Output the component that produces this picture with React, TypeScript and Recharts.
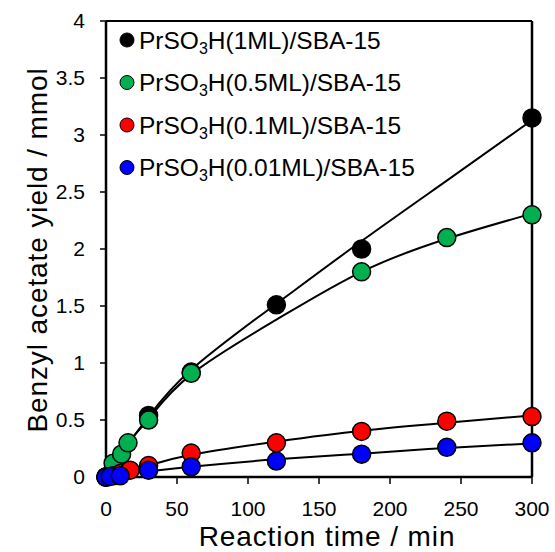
import React from 'react';
import { ComposedChart, XAxis, YAxis, Line, Scatter, ReferenceLine } from 'recharts';

// ---- data ----
const xTicks = [0, 50, 100, 150, 200, 250, 300];
const yTicks = [0, 0.5, 1, 1.5, 2, 2.5, 3, 3.5, 4];

const loadings = ['1ML', '0.5ML', '0.1ML', '0.01ML'];
const colors = ['#000000', '#00B050', '#FF0000', '#0000FF'];

// measured points
const time1ML = [0, 30, 60, 120, 180, 300];
const yield1ML = [0, 0.54, 0.92, 1.51, 2.0, 3.15];

const time05ML = [0, 5, 11, 15.5, 30, 60, 180, 240, 300];
const yield05ML = [0, 0.12, 0.2, 0.3, 0.5, 0.91, 1.8, 2.1, 2.3];

const time01ML = [0, 5, 10, 17, 30, 60, 120, 180, 240, 300];
const yield01ML = [0, 0.01, 0.03, 0.06, 0.1, 0.21, 0.3, 0.4, 0.49, 0.53];

const time001ML = [0, 3, 10, 30, 60, 120, 180, 240, 300];
const yield001ML = [0, 0.005, 0.01, 0.06, 0.09, 0.14, 0.2, 0.26, 0.3];

// fitted curves
const fitTime = [0, 15, 30, 60, 120, 180, 240, 300];
const fit1ML = [0, 0.28, 0.53, 0.94, 1.52, 2.07, 2.6, 3.13];
const fit05ML = [0, 0.29, 0.51, 0.9, 1.38, 1.8, 2.09, 2.31];
const fit01ML = [0, 0.055, 0.1, 0.195, 0.31, 0.405, 0.475, 0.54];
const fit001ML = [0, 0.03, 0.05, 0.09, 0.155, 0.205, 0.255, 0.295];

const zip = (xs: number[], ys: number[]) => xs.map((x, i) => ({ x, y: ys[i] }));

const pointSets = [
  zip(time1ML, yield1ML),
  zip(time05ML, yield05ML),
  zip(time01ML, yield01ML),
  zip(time001ML, yield001ML),
];
const fitSets = [
  zip(fitTime, fit1ML),
  zip(fitTime, fit05ML),
  zip(fitTime, fit01ML),
  zip(fitTime, fit001ML),
];

const FONT = '"Liberation Sans", Arial, sans-serif';

const makeShape = (fill: string) => (props: any) => (
  <circle cx={props.cx} cy={props.cy} r={9} fill={fill} stroke="#000" strokeWidth={1.5} />
);

const legendRowY = [40, 82.5, 125, 167.5];

export default function App() {
  return (
    <div style={{ position: 'relative', width: 555, height: 552 }}>
      <style>{'body{margin:0}'}</style>
      <ComposedChart
        width={555}
        height={552}
        margin={{ top: 21, right: 23, bottom: 0, left: 0 }}
        style={{ fontFamily: FONT }}
      >
        <XAxis
          type="number"
          dataKey="x"
          domain={[0, 300]}
          ticks={xTicks}
          height={75}
          tickSize={7}
          tickMargin={17}
          axisLine={{ stroke: '#000', strokeWidth: 2.5 }}
          tickLine={{ stroke: '#000', strokeWidth: 1.5 }}
          tick={{ fill: '#000', fontSize: 21, fontFamily: FONT }}
        />
        <YAxis
          type="number"
          dataKey="y"
          domain={[0, 4]}
          ticks={yTicks}
          width={106}
          tickSize={6}
          tickMargin={15}
          axisLine={{ stroke: '#000', strokeWidth: 2.5 }}
          tickLine={{ stroke: '#000', strokeWidth: 1.5 }}
          tick={{ fill: '#000', fontSize: 21, fontFamily: FONT }}
        />
        <ReferenceLine y={4} stroke="#000" strokeWidth={2} />
        <ReferenceLine x={300} stroke="#000" strokeWidth={2.5} />
        {fitSets.map((d, i) => (
          <Line
            key={'fit' + i}
            data={d}
            dataKey="y"
            type="natural"
            stroke="#000"
            strokeWidth={2}
            dot={false}
            activeDot={false}
            isAnimationActive={false}
          />
        ))}
        {pointSets.map((d, i) => (
          <Scatter
            key={'pts' + i}
            data={d}
            dataKey="y"
            shape={makeShape(colors[i])}
            isAnimationActive={false}
          />
        ))}
      </ComposedChart>
      <svg
        width={555}
        height={552}
        style={{ position: 'absolute', left: 0, top: 0, pointerEvents: 'none', fontFamily: FONT }}
      >
        {loadings.map((l, i) => (
          <g key={l}>
            <circle cx={127} cy={legendRowY[i]} r={7} fill={colors[i]} stroke="#000" strokeWidth={1} />
            <text x={139} y={legendRowY[i] + 8.7} fontSize={24.5} fill="#000">
              PrSO
              <tspan fontSize={16} dy={5}>3</tspan>
              <tspan dy={-5}>{`H(${l})/SBA-15`}</tspan>
            </text>
          </g>
        ))}
        <text x={327} y={546} fontSize={28} textAnchor="middle" letterSpacing={0.9} fill="#000">
          Reaction time / min
        </text>
        <text
          transform="translate(47,250) rotate(-90)"
          fontSize={28}
          textAnchor="middle"
          letterSpacing={0.9}
          fill="#000"
        >
          Benzyl acetate yield / mmol
        </text>
      </svg>
    </div>
  );
}
